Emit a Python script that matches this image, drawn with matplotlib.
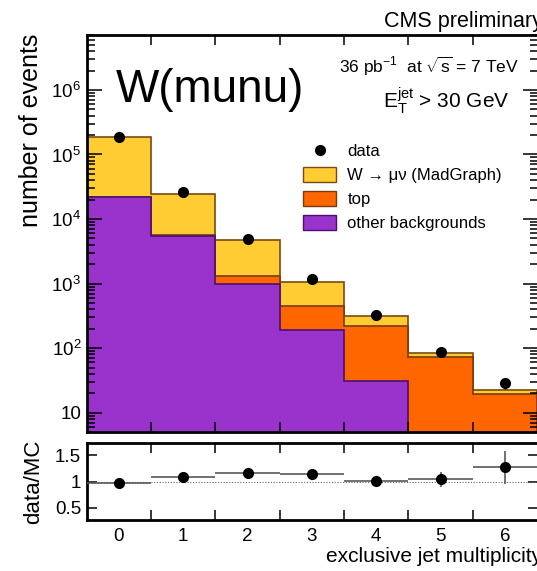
import numpy as np
import matplotlib
matplotlib.use("Agg")
import matplotlib.pyplot as plt
from matplotlib.lines import Line2D
from matplotlib.patches import Patch
from matplotlib.ticker import FixedLocator, FixedFormatter, LogLocator, NullFormatter

plt.rcParams['font.family'] = ['Liberation Sans', 'DejaVu Sans']
plt.rcParams['mathtext.fontset'] = 'custom'
plt.rcParams['mathtext.rm'] = 'Liberation Sans'
plt.rcParams['mathtext.it'] = 'Liberation Sans:italic'
plt.rcParams['mathtext.bf'] = 'Liberation Sans:bold'

# ---- data ----
njets = [0, 1, 2, 3, 4, 5, 6]
other_bkg = [22200, 5450, 980, 189, 31, 0, 0]
top_bkg = [40, 150, 310, 258, 186, 72, 19.5]
wjets = [166800, 19100, 3430, 593, 96, 11.6, 3.0]
data = [186000, 26500, 4900, 1170, 321, 87, 28.6]
data_err = [431, 163, 70, 34, 18, 9.3, 5.3]
ratio = [0.98, 1.095, 1.17, 1.15, 1.02, 1.045, 1.27]
ratio_err = [0.01, 0.01, 0.02, 0.03, 0.06, 0.14, 0.32]
ytick_vals = [10, 100, 1e3, 1e4, 1e5, 1e6]
ytick_labels = ['10', '$10^{2}$', '$10^{3}$', '$10^{4}$', '$10^{5}$', '$10^{6}$']
rtick_vals = [0.5, 1.0, 1.5]
rtick_labels = ['0.5', '1', '1.5']

W, H = 537, 571
fig = plt.figure(figsize=(W / 100, H / 100), dpi=100)

def px_axes(l, t, r, b):
    return fig.add_axes([l / W, 1 - b / H, (r - l) / W, (b - t) / H])

ax = px_axes(86.7, 35.0, 538.3, 432.3)
rax = px_axes(86.7, 442.7, 538.3, 520.0)

x = np.array(njets, dtype=float)
edges = np.append(x - 0.5, x[-1] + 0.5)
base = 0.1
c_other = np.array(other_bkg, dtype=float)
c_top = c_other + np.array(top_bkg)
c_all = c_top + np.array(wjets)

col_w, col_top, col_oth = '#FFCC33', '#FF6600', '#9933CC'
edge_w, edge_top, edge_oth = '#7A4A10', '#7A3A10', '#4A1070'

ax.stairs(c_all, edges, fill=True, baseline=base, facecolor=col_w, edgecolor='none')
ax.stairs(c_all, edges, baseline=base, color=edge_w, lw=1.2)
ax.stairs(c_top, edges, fill=True, baseline=base, facecolor=col_top, edgecolor='none')
ax.stairs(c_top, edges, baseline=base, color=edge_top, lw=1.2)
oth_plot = np.where(c_other > 0, c_other, base)
ax.stairs(oth_plot, edges, fill=True, baseline=base, facecolor=col_oth, edgecolor='none')
ax.stairs(oth_plot, edges, baseline=base, color=edge_oth, lw=1.2)

ax.errorbar(x, data, yerr=data_err, fmt='o', color='black', ms=7, lw=1, capsize=0, zorder=5)

ax.set_yscale('log')
ax.set_xlim(-0.5, 6.52)
ax.set_ylim(4.97, 7.1e6)
ax.yaxis.set_major_locator(FixedLocator(ytick_vals))
ax.yaxis.set_major_formatter(FixedFormatter(ytick_labels))
ax.yaxis.set_minor_locator(LogLocator(base=10, subs=np.arange(2, 10)))
ax.yaxis.set_minor_formatter(NullFormatter())
ax.xaxis.set_major_locator(FixedLocator(list(edges[1:-1])))
ax.xaxis.set_major_formatter(NullFormatter())
ax.xaxis.set_minor_locator(FixedLocator([]))
ax.tick_params(which='both', direction='in', top=True, right=True, labelsize=13.5, width=1.1)
ax.tick_params(axis='y', which='major', length=11, pad=4)
ax.tick_params(axis='y', which='minor', length=6)
ax.tick_params(axis='x', which='major', length=7)
for s in ax.spines.values():
    s.set_linewidth(2)

# ratio panel
rax.axhline(1.0, color='0.4', lw=0.8, ls=(0, (1, 1.5)))
rax.errorbar(x, ratio, xerr=0.5, yerr=ratio_err, fmt='o', color='black', ecolor='0.35',
             ms=7, lw=1.2, capsize=0, zorder=5)
rax.set_xlim(-0.5, 6.52)
rax.set_ylim(0.272, 1.74)
rax.yaxis.set_major_locator(FixedLocator(rtick_vals))
rax.yaxis.set_major_formatter(FixedFormatter(rtick_labels))
rax.xaxis.set_major_locator(FixedLocator(list(edges[1:-1])))
rax.xaxis.set_major_formatter(NullFormatter())
rax.xaxis.set_minor_locator(FixedLocator(njets))
rax.xaxis.set_minor_formatter(FixedFormatter([str(n) for n in njets]))
rax.tick_params(which='both', direction='in', top=True, right=True, labelsize=13.5, width=1.1)
rax.tick_params(axis='y', which='major', length=7, pad=4)
rax.tick_params(axis='x', which='major', length=7)
rax.tick_params(axis='x', which='minor', length=0, pad=6)
for s in rax.spines.values():
    s.set_linewidth(2)

# texts
fig.text(31 / W, 1 - 130 / H, 'number of events', rotation=90, ha='center', va='center', fontsize=18)
fig.text(34 / W, 1 - 482 / H, 'data/MC', rotation=90, ha='center', va='center', fontsize=16)
fig.text(542 / W, 1 - 562 / H, 'exclusive jet multiplicity', ha='right', va='baseline', fontsize=15)
fig.text(543 / W, 1 - 27 / H, 'CMS preliminary', ha='right', va='baseline', fontsize=15.5)
fig.text(116 / W, 1 - 102 / H, 'W(munu)', ha='left', va='baseline', fontsize=33)
fig.text(519 / W, 1 - 73.5 / H, r'36 pb$^{-1}$  at $\sqrt{\mathrm{s}}$ = 7 TeV', ha='right', va='baseline', fontsize=12.5)
fig.text(510 / W, 1 - 107.5 / H, r'E$_{\mathrm{T}}^{\mathrm{jet}}$ > 30 GeV', ha='right', va='baseline', fontsize=15)

handles = [
    Line2D([], [], marker='o', color='black', ls='none', ms=7),
    Patch(facecolor=col_w, edgecolor=edge_w, lw=1),
    Patch(facecolor=col_top, edgecolor=edge_top, lw=1),
    Patch(facecolor=col_oth, edgecolor=edge_oth, lw=1),
]
labels = ['data', 'W → μν (MadGraph)', 'top', 'other backgrounds']
leg = ax.legend(handles, labels, loc='upper left', bbox_to_anchor=(303 / W, 1 - 143 / H),
                bbox_transform=fig.transFigure, frameon=False, fontsize=12,
                handlelength=2.0, handleheight=1.05, handletextpad=0.66, labelspacing=0.45,
                borderaxespad=0, borderpad=0)

fig.savefig('out.png', dpi=100)
